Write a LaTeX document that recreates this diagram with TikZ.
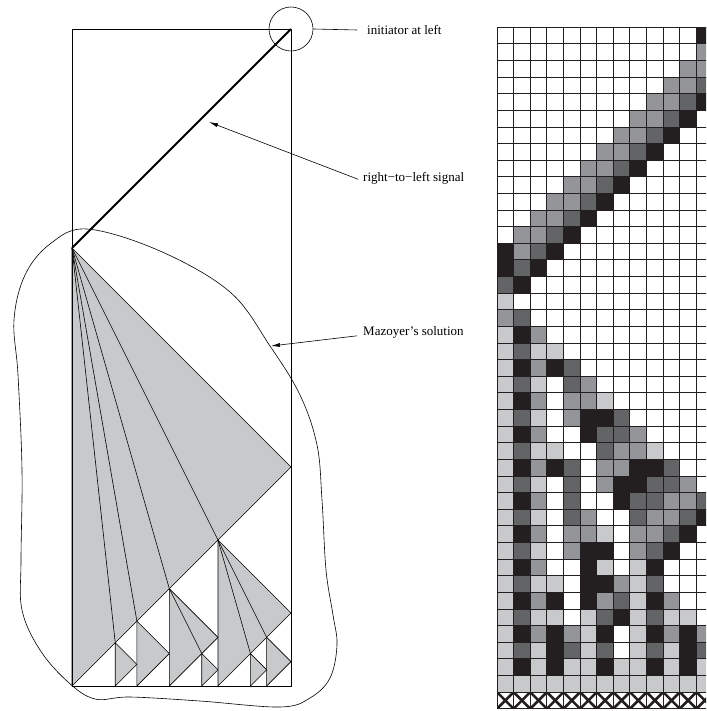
\documentclass[tikz,border=0pt]{standalone}
\usepackage{fontspec}
\setmainfont{Liberation Serif}
\usetikzlibrary{arrows.meta}

\definecolor{cell0}{RGB}{255,255,255}
\definecolor{cell1}{RGB}{200,201,203}
\definecolor{cell2}{RGB}{147,149,152}
\definecolor{cell3}{RGB}{99,100,102}
\definecolor{cell4}{RGB}{35,31,32}

\begin{document}
\begin{tikzpicture}[x=1pt,y=-1pt,line join=round,
  wedge/.style={fill=cell1,draw=black,line width=0.6pt},
  fanline/.style={draw=black,line width=0.6pt},
  tag/.style={font=\fontsize{13}{15}\selectfont,anchor=west,inner sep=0pt},
  pointer/.style={-{Latex[length=9pt,width=4pt]},line width=0.6pt},
  gridline/.style={line width=1pt,draw=cell4}]
\useasboundingbox (0,0) rectangle (706,711);
% Main wedge and its fan
\filldraw[wedge] (72,248) -- (291,467) -- (72,686) -- cycle;
\foreach \d in {146,97.33,64.89,43.26} {
  \draw[fanline] (72,248) -- (72+\d,686-\d);
}
% Sub wedges: apex x / apex y / width
\foreach \x/\y/\w in {218/540/73,169.33/588.67/48.67,136.89/621.11/32.44,115.26/642.74/21.63,
                      266.67/637.33/24.33,250.44/653.56/16.22,201.78/653.56/16.22} {
  \filldraw[wedge] (\x,\y) -- ++(\w,\w) -- ++(-\w,\w) -- cycle;
}
\foreach \d in {48.67,32.44} {
  \draw[fanline] (218,540) -- (218+\d,686-\d);
}
\draw[fanline] (169.33,588.67) -- (201.78,653.56);
% Space-time frame and the signal
\draw[line width=0.7pt] (72,29) rectangle (291,686);
\draw[line width=1.8pt] (291,29) -- (72,248);
\node[circle,draw,line width=0.6pt,minimum size=44pt,inner sep=0pt] (init) at (291,29) {};
% Outline of the solution
\draw[line width=0.6pt] plot[smooth cycle,tension=0.6] coordinates {
  (87,229) (160,251) (230,292) (270,346) (300,395) (317,445) (322,500)
  (326,570) (333,615) (337,645) (330,678) (310,698) (280,707) (200,701) (130,697) (95,699)
  (68,682) (40,650) (22,610) (21,560) (22,470) (18,375) (14,320) (25,275) (50,244)};
% Labels
\node[tag] (lInit) at (367,30) {initiator at left};
\node[tag] (lSig) at (363,178) {right−to−left signal};
\node[tag] (lMaz) at (363,332) {Mazoyer’s solution};
\coordinate (sigTip) at (209,122);
\coordinate (mazTip) at (271,346);
\draw[line width=0.6pt] (init.east) -- ([xshift=-10pt]lInit.west);
\draw[pointer,shorten <=5pt] (lSig.base west) -- (sigTip);
\draw[pointer,shorten <=6pt] (lMaz.base west) -- (mazTip);
% Cellular automaton run
\begin{scope}
\clip (490,0) rectangle (706,711);
\foreach \row [count=\i from 0] in {
  {0,0,0,0,0,0,0,0,0,0,0,0,4},{0,0,0,0,0,0,0,0,0,0,0,0,2},{0,0,0,0,0,0,0,0,0,0,0,2,2},
  {0,0,0,0,0,0,0,0,0,0,2,2,3},{0,0,0,0,0,0,0,0,0,2,2,3,4},{0,0,0,0,0,0,0,0,2,2,3,4,0},
  {0,0,0,0,0,0,0,2,2,3,4,0,0},{0,0,0,0,0,0,2,2,3,4,0,0,0},{0,0,0,0,0,2,2,3,4,0,0,0,0},
  {0,0,0,0,2,2,3,4,0,0,0,0,0},{0,0,0,2,2,3,4,0,0,0,0,0,0},{0,0,2,2,3,4,0,0,0,0,0,0,0},
  {0,2,2,3,4,0,0,0,0,0,0,0,0},{4,2,3,4,0,0,0,0,0,0,0,0,0},{4,3,4,0,0,0,0,0,0,0,0,0,0},
  {3,4,0,0,0,0,0,0,0,0,0,0,0},{1,0,0,0,0,0,0,0,0,0,0,0,0},{2,3,0,0,0,0,0,0,0,0,0,0,0},
  {1,4,2,0,0,0,0,0,0,0,0,0,0},{1,3,1,1,0,0,0,0,0,0,0,0,0},{1,4,2,4,3,0,0,0,0,0,0,0,0},
  {1,3,1,0,3,2,0,0,0,0,0,0,0},{1,4,2,0,2,2,1,0,0,0,0,0,0},{1,3,1,0,2,4,4,3,0,0,0,0,0},
  {1,4,2,0,0,4,3,3,2,0,0,0,0},{1,3,1,1,0,0,3,2,2,1,0,0,0},{1,4,2,4,3,0,2,2,4,4,3,0,0},
  {1,3,1,0,3,0,2,4,4,3,3,2,0},{1,4,2,0,3,0,0,4,3,3,2,2,3},{1,3,1,0,3,2,0,0,3,2,2,3,4},
  {1,4,2,0,2,2,1,0,2,2,3,4,0},{1,3,1,0,2,4,4,0,2,3,4,0,0},{1,4,2,0,0,4,1,0,1,4,0,0,0},
  {1,3,1,1,0,4,4,2,1,3,0,0,0},{1,4,2,4,0,4,2,3,1,4,2,0,0},{1,3,1,1,0,1,3,4,1,3,1,1,0},
  {1,4,2,4,2,1,4,0,1,4,2,4,2},{1,3,1,4,3,1,3,0,1,3,1,4,3},{1,4,1,4,1,1,4,1,1,4,1,4,1},
  {1,1,1,1,1,1,1,1,1,1,1,1,1}} {
  \foreach \c [count=\j from 0] in \row {
    \fill[fill=cell\c] (497+16.62*\j,27.3+16.62*\i) rectangle ++(16.62,16.62);
  }
}
% Border row
\foreach \j in {0,...,12} {
  \begin{scope}
  \clip (497+16.62*\j,692.1) rectangle ++(16.62,16.62);
  \draw[line width=2.6pt,cell4] (497+16.62*\j,692.1) -- ++(16.62,16.62)
    (497+16.62*\j,708.72) -- ++(16.62,-16.62);
  \end{scope}
}
\foreach \j in {0,...,13} {
  \draw[gridline] (497+16.62*\j,27.3) -- (497+16.62*\j,708.72);
}
\foreach \i in {0,...,41} {
  \draw[gridline] (497,27.3+16.62*\i) -- (713.1,27.3+16.62*\i);
}
\end{scope}
\end{tikzpicture}
\end{document}
